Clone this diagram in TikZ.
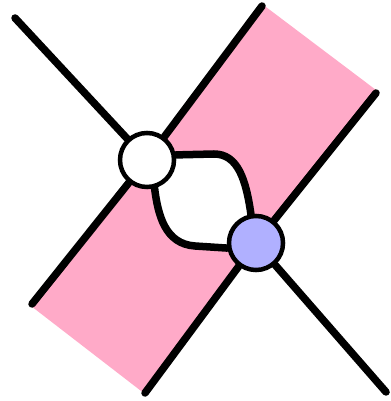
\documentclass[tikz,border=0pt]{standalone}
\pgfdeclarelayer{bg}
\pgfdeclarelayer{edges}
\pgfsetlayers{bg,edges,main}
\begin{document}
\begin{tikzpicture}[x=0.01cm,y=-0.01cm,
  edge/.style={line width=0.075cm,line cap=round},
  vert/.style={circle,draw,line width=0.045cm,minimum size=0.54cm,inner sep=0pt}]
\definecolor{bandpink}{RGB}{255,170,200}
\definecolor{vblue}{RGB}{176,176,255}
\useasboundingbox (0,0) rectangle (390,401);
\coordinate (wc) at (147,160);
\coordinate (bc) at (256,243);
\coordinate (u1) at (214,154);
\coordinate (l1) at (195,246);
\coordinate (tl) at (15,18);
\coordinate (t1) at (262,6);
\coordinate (bl1) at (32,304);
\coordinate (t2) at (376,93);
\coordinate (bl2) at (145,393);
\coordinate (br) at (386,392);
\node[vert,fill=white] (w) at (wc) {};
\node[vert,fill=vblue] (b) at (bc) {};
\begin{pgfonlayer}{bg}
\fill[bandpink] (262,4) -- (376,90) -- (145,394) -- (31,306) -- cycle;
\fill[white] (wc) -- ([shift={(28,-5)}]wc) -- (u1) .. controls (238,154) and (246,180) .. (252,216) -- (bc) -- (228,249) -- (l1) .. controls (165,244) and (158,215) .. (154,188) -- cycle;
\end{pgfonlayer}
\begin{pgfonlayer}{edges}
\draw[edge] (tl) -- (w);
\draw[edge] (t1) -- (w);
\draw[edge] (w) -- (bl1);
\draw[edge] (t2) -- (b);
\draw[edge] (b) -- (bl2);
\draw[edge] (b) -- (br);
\draw[edge] (w.10) -- (u1) .. controls (238,154) and (246,180) .. (b.100);
\draw[edge] (w.-75) .. controls (158,215) and (165,244) .. (l1) -- (b.190);
\end{pgfonlayer}
\end{tikzpicture}
\end{document}
